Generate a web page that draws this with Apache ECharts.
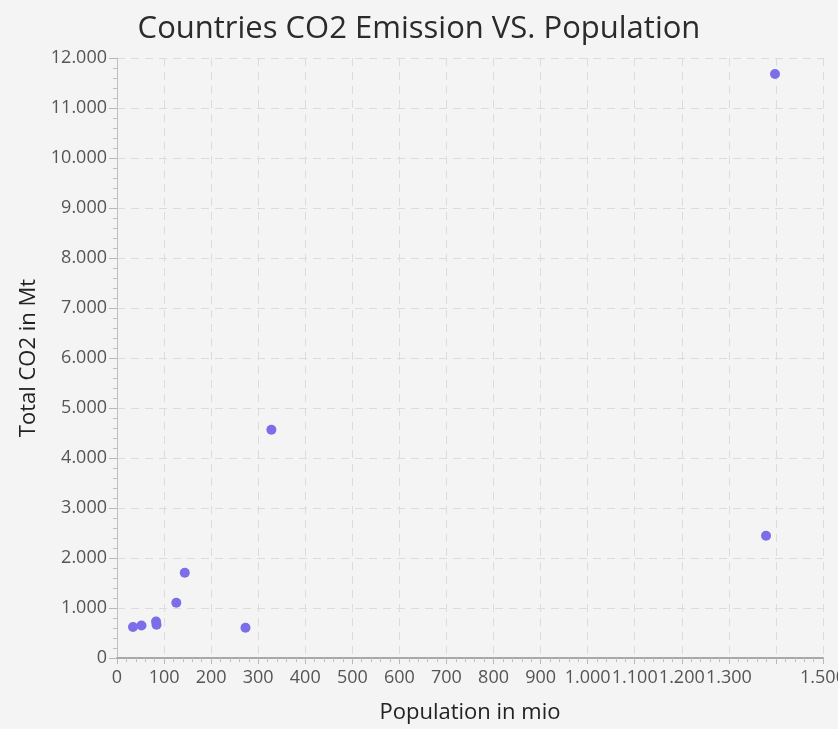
<!DOCTYPE html>
<html>
<head>
<meta charset="utf-8">
<script src="https://cdn.jsdelivr.net/npm/echarts@6/dist/echarts.min.js"></script>
<style>
html,body{margin:0;padding:0;background:#f4f4f4;}
#c{width:838px;height:729px;}
</style>
</head>
<body>
<div id="c"></div>
<script>
// Population in millions
const population = [1398, 1379, 328, 144, 126, 273, 83, 84, 52, 34];
// Total CO2 in Mt
const co2 = [11680, 2445, 4565, 1705, 1105, 605, 730, 665, 650, 620];
const xTicks = [0, 100, 200, 300, 400, 500, 600, 700, 800, 900, 1000, 1100, 1200, 1300, 1500];

const points = population.map((p, i) => [p, co2[i]]);
const fmt = v => String(v).replace(/\B(?=(\d{3})+(?!\d))/g, '.');
const font = '"Open Sans", "Noto Sans", sans-serif';

const chart = echarts.init(document.getElementById('c'));
chart.setOption({
  backgroundColor: '#f4f4f4',
  animation: false,
  title: {
    text: 'Countries CO2 Emission VS. Population',
    left: 'center', top: 9,
    textStyle: {fontFamily: font, fontSize: 31, fontWeight: 'normal', color: '#2b2b2b'}
  },
  grid: {left: 117, right: 15, top: 58, bottom: 71, outerBoundsMode: 'none', containLabel: false},
  xAxis: {
    type: 'value', min: 0, max: 1500, interval: 100,
    name: 'Population in mio', nameLocation: 'middle', nameGap: 44,
    nameTextStyle: {fontFamily: font, fontSize: 22, color: '#222'},
    axisLine: {show: true, lineStyle: {color: '#a8a8a8', width: 2}},
    axisTick: {show: true, length: 6, lineStyle: {color: '#b8b8b8'}},
    minorTick: {show: true, splitNumber: 5, length: 4, lineStyle: {color: '#c0c0c0'}},
    axisLabel: {
      fontFamily: font, fontSize: 18, color: '#555', margin: 11,
      formatter: v => xTicks.includes(v) ? fmt(v) : ''
    },
    splitLine: {show: true, lineStyle: {color: '#dcdcdc', type: [8, 6]}}
  },
  yAxis: {
    type: 'value', min: 0, max: 12000, interval: 1000,
    name: 'Total CO2 in Mt', nameLocation: 'middle', nameGap: 75, nameRotate: 90,
    nameTextStyle: {fontFamily: font, fontSize: 22, color: '#222'},
    axisLine: {show: true, lineStyle: {color: '#c0c0c0', width: 1}},
    axisTick: {show: true, length: 8, lineStyle: {color: '#b8b8b8'}},
    minorTick: {show: true, splitNumber: 5, length: 4, lineStyle: {color: '#c0c0c0'}},
    axisLabel: {fontFamily: font, fontSize: 18, color: '#555', margin: 10, formatter: v => fmt(v)},
    splitLine: {show: true, lineStyle: {color: '#dcdcdc', type: [8, 6]}}
  },
  series: [{
    type: 'scatter',
    data: points,
    symbolSize: 10,
    itemStyle: {color: '#7b6ee8', opacity: 1}
  }]
});
</script>
</body>
</html>
